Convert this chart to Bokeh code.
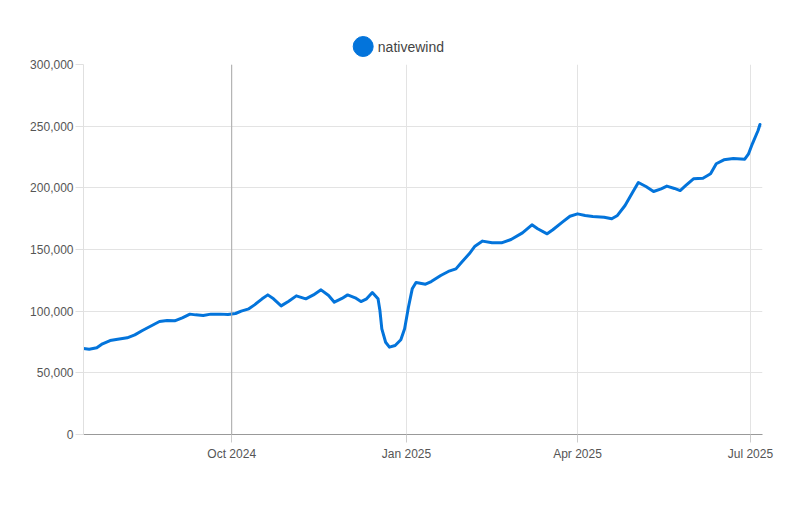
from datetime import datetime
from bokeh.plotting import figure
from bokeh.layouts import column
from bokeh.models import (DatetimeTickFormatter, MonthsTicker, NumeralTickFormatter,
                          Span, Range1d, SingleIntervalTicker)
from bokeh.core.properties import value
from bokeh.embed import file_html
from bokeh.resources import INLINE

dates = ["2024-07-15", "2024-07-18", "2024-07-22", "2024-07-25", "2024-07-29", "2024-08-02",
         "2024-08-07", "2024-08-11", "2024-08-15", "2024-08-20", "2024-08-24", "2024-08-28",
         "2024-09-01", "2024-09-05", "2024-09-09", "2024-09-12", "2024-09-16", "2024-09-20",
         "2024-09-25", "2024-09-29", "2024-10-03", "2024-10-06", "2024-10-10", "2024-10-13",
         "2024-10-17", "2024-10-20", "2024-10-23", "2024-10-27", "2024-10-31", "2024-11-04",
         "2024-11-09", "2024-11-13", "2024-11-17", "2024-11-21", "2024-11-24", "2024-11-28",
         "2024-12-01", "2024-12-05", "2024-12-08", "2024-12-11", "2024-12-14", "2024-12-17",
         "2024-12-18", "2024-12-19", "2024-12-21", "2024-12-23", "2024-12-26", "2024-12-29",
         "2024-12-31", "2025-01-02", "2025-01-04", "2025-01-06", "2025-01-11", "2025-01-14",
         "2025-01-19", "2025-01-23", "2025-01-27", "2025-01-30", "2025-02-03", "2025-02-06",
         "2025-02-10", "2025-02-15", "2025-02-20", "2025-02-25", "2025-03-03", "2025-03-08",
         "2025-03-11", "2025-03-16", "2025-03-19", "2025-03-24", "2025-03-28", "2025-04-01",
         "2025-04-05", "2025-04-09", "2025-04-15", "2025-04-19", "2025-04-22", "2025-04-26",
         "2025-04-30", "2025-05-03", "2025-05-07", "2025-05-11", "2025-05-15", "2025-05-18",
         "2025-05-22", "2025-05-25", "2025-05-28", "2025-06-01", "2025-06-06", "2025-06-10",
         "2025-06-13", "2025-06-17", "2025-06-22", "2025-06-28", "2025-06-30", "2025-07-02",
         "2025-07-05", "2025-07-06"]
stars = [69700, 69200, 70300, 73500, 76200, 77300,
         78400, 80800, 84300, 88400, 91600, 92400,
         92200, 94600, 97600, 97000, 96500, 97600,
         97600, 97300, 98100, 100000, 101900, 105100,
         110000, 113200, 110000, 104300, 108100, 112400,
         110000, 113200, 117300, 112700, 107300, 110300,
         113200, 110800, 107800, 110000, 115100, 110000,
         100500, 85700, 74800, 70800, 72200, 76800,
         85700, 103200, 118100, 123300, 121900, 124000,
         128900, 132200, 134300, 139700, 146500, 152700,
         156800, 155400, 155400, 158100, 163500, 170000,
         166800, 162700, 166000, 172200, 177000, 178900,
         177600, 176800, 176200, 174900, 177600, 185700,
         196500, 204300, 201100, 197000, 199200, 201400,
         199500, 197800, 201900, 207300, 207800, 211400,
         219500, 222700, 223800, 223200, 227600, 235700,
         246500, 251400]
series_name = "nativewind"
x_start, x_end = "2024-07-15T00:00", "2025-07-07T08:00"
crosshair_date = "2024-10-01T00:00"
y_max, y_step = 300000, 50000

LINE = "#0374db"
FONT = "Liberation Sans"

xs = [datetime.strptime(d, "%Y-%m-%d") for d in dates]

# legend strip on top
lg = figure(width=789, height=57, output_backend="svg", toolbar_location=None,
            x_axis_location=None, y_axis_location=None,
            min_border=0, min_border_left=0, min_border_right=0,
            min_border_top=0, min_border_bottom=0,
            x_range=Range1d(0, 789), y_range=Range1d(0, 57))
lg.grid.visible = False
lg.outline_line_color = None
lg.scatter(x=[325], y=[11], size=20, fill_color=LINE, line_color=LINE)
lg.text(x=[342], y=[11], text=[series_name], text_font=value(FONT), text_font_size="14px",
        text_color="#444444", text_baseline="middle", text_align="left")

p = figure(width=789, height=434, x_axis_type="datetime", output_backend="svg",
           toolbar_location=None, min_border_left=83, min_border_right=27,
           min_border_top=7, min_border_bottom=57)
p.x_range = Range1d(datetime.fromisoformat(x_start), datetime.fromisoformat(x_end))
p.y_range = Range1d(0, y_max)
p.outline_line_color = None

p.xgrid.grid_line_color = "#e3e3e3"
p.ygrid.grid_line_color = "#e3e3e3"

p.add_layout(Span(location=datetime.fromisoformat(crosshair_date), dimension="height",
                  line_color="#aaaaaa", line_width=1))

p.line(xs, stars, line_color=LINE, line_width=3, line_join="round", line_cap="round")

p.xaxis.ticker = MonthsTicker(months=[0, 3, 6, 9])
p.xaxis.formatter = DatetimeTickFormatter(months="%b %Y", days="%b %Y")
p.yaxis.ticker = SingleIntervalTicker(interval=y_step)
p.yaxis.formatter = NumeralTickFormatter(format="0,0")
p.xgrid.ticker = p.xaxis.ticker
p.ygrid.ticker = p.yaxis.ticker

for ax in (p.xaxis, p.yaxis):
    ax.major_label_text_font = FONT
    ax.major_label_text_font_size = "12px"
    ax.major_label_text_color = "#555555"
    ax.minor_tick_line_color = None
    ax.major_tick_in = 0
    ax.major_tick_out = 8
p.xaxis.axis_line_color = "#999999"
p.xaxis.major_tick_line_color = "#cccccc"
p.yaxis.axis_line_color = "#e0e0e0"
p.yaxis.major_tick_line_color = "#e0e0e0"
p.yaxis.major_label_standoff = 2
p.xaxis.major_label_standoff = 4

layout = column(lg, p, spacing=0)
open("out.html", "w").write(file_html(layout, INLINE))
